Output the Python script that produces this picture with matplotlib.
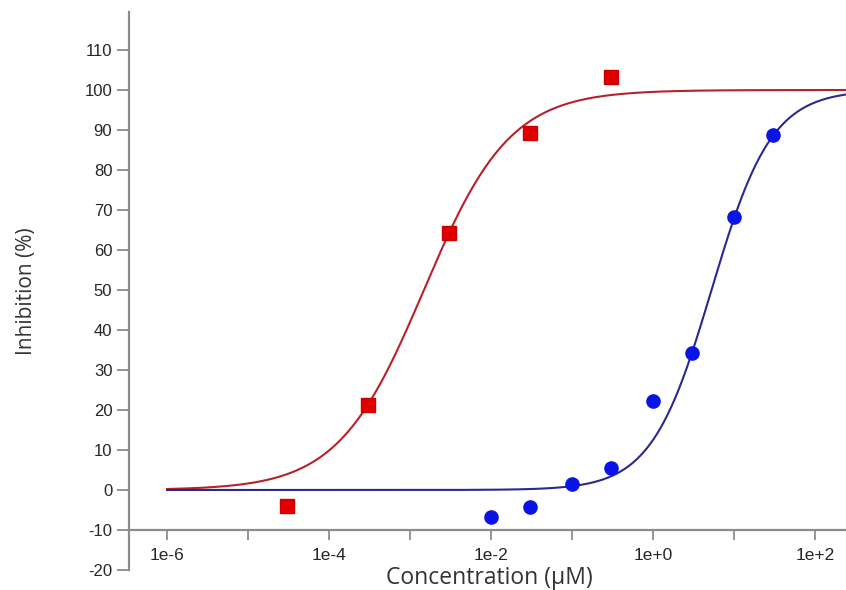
import numpy as np
import matplotlib.pyplot as plt
from matplotlib.ticker import FixedLocator, FuncFormatter

plt.rcParams['axes.unicode_minus'] = False

# measured points (concentration in uM, inhibition in %)
red_x = [3e-5, 3e-4, 3e-3, 3e-2, 3e-1]
red_y = [-3.9, 21.3, 64.3, 89.2, 103.3]
blue_x = [1e-2, 3e-2, 1e-1, 3e-1, 1, 3, 10, 30]
blue_y = [-6.7, -4.2, 1.6, 5.6, 22.3, 34.3, 68.2, 88.8]

# fitted 4PL parameters: bottom, top, log10 IC50, hill
red_fit = [0, 100, -2.83, 0.82]
blue_fit = [0, 100, 0.72, 1.17]

def logistic(x, p):
    bottom, top, logic50, hill = p
    return bottom + (top - bottom) / (1 + 10 ** ((logic50 - np.log10(x)) * hill))

fig = plt.figure(figsize=(8.46, 5.9), dpi=100)
ax = fig.add_axes([0.1525, 0.0339, 0.8475, 0.9458])

xc = np.logspace(-6, 2.5, 400)
ax.plot(xc, logistic(xc, red_fit), color='#b5222c', lw=1.5, zorder=2)
ax.plot(xc, logistic(xc, blue_fit), color='#2a2a8c', lw=1.5, zorder=2)
ax.plot(red_x, red_y, 's', color='#e00000', ms=9.5, mec='#c80000', zorder=3)
ax.plot(blue_x, blue_y, 'o', color='#0a14e6', ms=9.5, mec='#0a14e6', zorder=3)

ax.set_xscale('log')
ax.set_xlim(10 ** -6.47, 10 ** 2.38)
ax.set_ylim(-20, 119.5)

# x axis sits at y = -10, ticks every decade, labels every other decade
ax.spines['bottom'].set_position(('data', -10))
ax.spines['top'].set_visible(False)
ax.spines['right'].set_visible(False)
for s in ['left', 'bottom']:
    ax.spines[s].set_color('#8c8c8c')
    ax.spines[s].set_linewidth(1.6)

decades = [10.0 ** k for k in range(-6, 3)]
ax.xaxis.set_major_locator(FixedLocator(decades))
ax.xaxis.set_minor_locator(FixedLocator([]))
ax.xaxis.set_major_formatter(FuncFormatter(
    lambda v, pos: ('1e%+d' % round(np.log10(v))) if round(np.log10(v)) % 2 == 0 else ''))
ax.set_yticks(np.arange(-20, 111, 10))

ax.tick_params(axis='both', colors='#8c8c8c', labelcolor='#262626', labelsize=12, width=1.3)
ax.tick_params(axis='x', length=7, pad=6, labelsize=12.5)
ax.tick_params(axis='y', length=9, pad=3)
for lab in ax.get_xticklabels() + ax.get_yticklabels():
    lab.set_fontfamily('Liberation Sans')

ax.set_xlabel('Concentration (µM)', fontsize=16.5, family='Open Sans', color='#333333')
ax.set_ylabel('Inhibition (%)', fontsize=15, family='Open Sans', color='#333333')
ax.xaxis.label.set_va('center')
ax.yaxis.label.set_va('center')
ax.xaxis.set_label_coords(0.503, -0.0143)
ax.yaxis.set_label_coords(-0.143, 0.5)

fig.savefig('out.png', dpi=100)
